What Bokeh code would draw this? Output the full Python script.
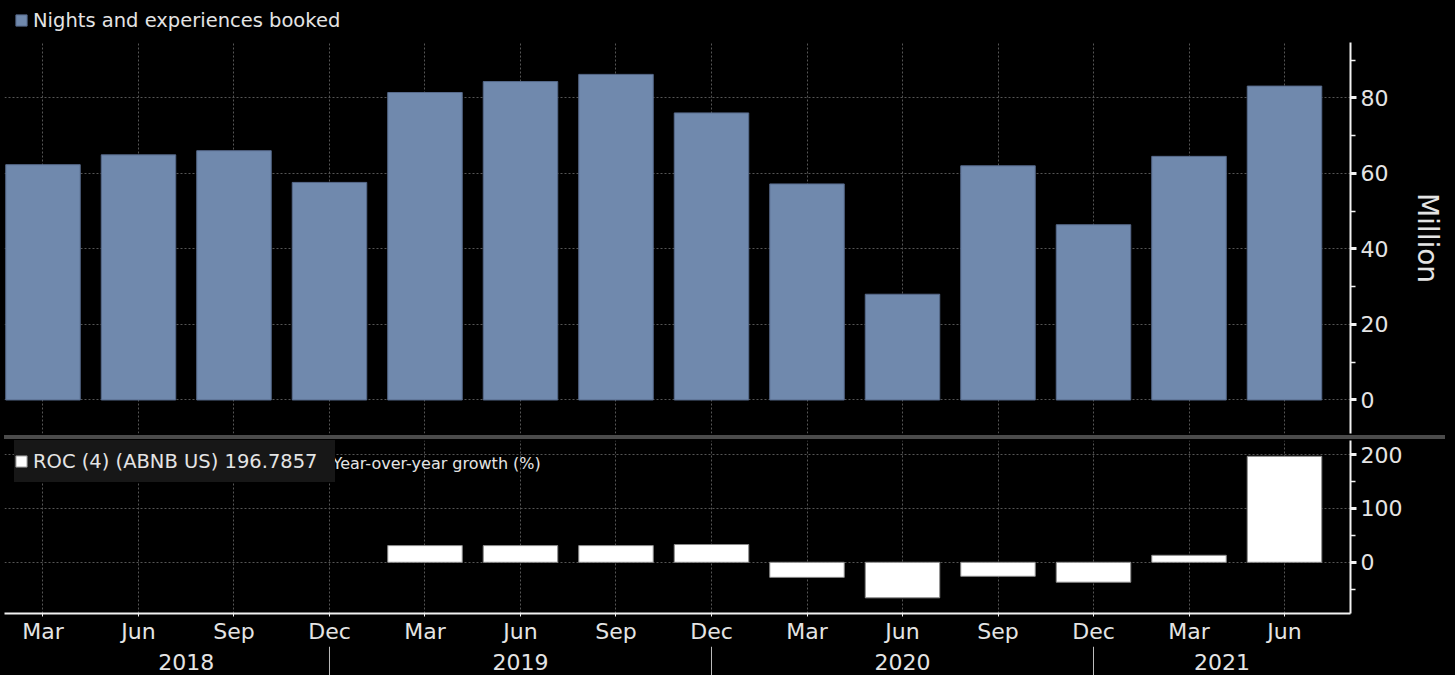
from bokeh.plotting import figure
from bokeh.layouts import column
from bokeh.models import (ColumnDataSource, FixedTicker, Grid, Range1d, Legend,
                          LegendItem, Label, Div)
from bokeh.embed import file_html
from bokeh.resources import INLINE
from bokeh.core.properties import value

# ---------------- data ----------------
quarters = ["Mar", "Jun", "Sep", "Dec", "Mar", "Jun", "Sep", "Dec",
            "Mar", "Jun", "Sep", "Dec", "Mar", "Jun"]
years = [2018, 2018, 2018, 2018, 2019, 2019, 2019, 2019,
         2020, 2020, 2020, 2020, 2021, 2021]
nights_booked = [62.3, 64.9, 66.0, 57.6, 81.4, 84.3, 86.2, 76.0,
                 57.2, 28.0, 62.0, 46.4, 64.5, 83.1]
# year-over-year growth (%), available from Mar 2019 on
roc_start = 4
roc_growth = [31, 31, 31, 33, -28, -66, -26, -37, 13, 196.7857]

top_ticks = [0, 20, 40, 60, 80]
top_minor = [10, 30, 50, 70, 90]
bot_ticks = [0, 100, 200]
bot_minor = [-50, 50, 150]

top_label = "Nights and experiences booked"
roc_label = "ROC (4) (ABNB US) 196.7857"
roc_note = "Year-over-year growth (%)"
unit_label = "Million"

# ---------------- style ----------------
FONT = "DejaVu Sans"
BG = "black"
TXT = "#e4e4e4"
GRID = "#555555"
BAR = "#7089ad"
BAR_LINE = "#56698a"
W = 1455
LB = 4
RB = 105

idx = list(range(len(quarters)))
x_start, x_end = -0.403, 13.691
xr = Range1d(x_start, x_end)


def style_fig(p):
    p.background_fill_color = BG
    p.border_fill_color = BG
    p.outline_line_color = None


def style_right_axis(ax, ticks, minor):
    ax.ticker = FixedTicker(ticks=ticks, minor_ticks=minor)
    ax.axis_line_color = "#f2f2f2"
    ax.axis_line_width = 2
    ax.major_tick_in = 0
    ax.major_tick_out = 6
    ax.major_tick_line_width = 3
    ax.major_tick_line_color = "#f2f2f2"
    ax.minor_tick_in = 0
    ax.minor_tick_out = 5
    ax.minor_tick_line_width = 1.5
    ax.minor_tick_line_color = "#f2f2f2"
    ax.major_label_text_font = FONT
    ax.major_label_text_font_size = "22px"
    ax.major_label_text_color = TXT
    ax.major_label_standoff = 4


def style_grid(g):
    g.grid_line_color = GRID
    g.grid_line_dash = "2 2"
    g.grid_line_width = 1


# ---------------- legend strip (top) ----------------
p0 = figure(width=W, height=42, x_range=Range1d(0, 1), y_range=Range1d(0, 1),
            output_backend="svg", toolbar_location=None,
            x_axis_location=None, y_axis_location=None,
            min_border_left=LB, min_border_right=RB, min_border_top=0,
            min_border_bottom=0)
style_fig(p0)
p0.grid.visible = False
# legend key only: a zero-height bar kept outside the strip's visible range
r0 = p0.vbar(x=[-5], top=[0], bottom=[0], width=0.5,
             fill_color=BAR, line_color=BAR_LINE)
leg0 = Legend(items=[LegendItem(label=top_label, renderers=[r0])],
              location=(10, 2), margin=0, padding=0, spacing=0,
              glyph_width=14, glyph_height=14, label_standoff=5,
              label_height=40,
              label_text_font=FONT, label_text_font_size="19.5px",
              label_text_color=TXT, background_fill_alpha=0,
              border_line_color=None)
p0.add_layout(leg0, "center")

# ---------------- top panel ----------------
src1 = ColumnDataSource(dict(x=idx, v=nights_booked))
p1 = figure(width=W, height=392, x_range=xr, y_range=Range1d(-8.87, 94.64),
            output_backend="svg", toolbar_location=None,
            x_axis_location=None, y_axis_location="right",
            min_border_left=LB, min_border_right=RB, min_border_top=0,
            min_border_bottom=1)
style_fig(p1)
style_right_axis(p1.yaxis[0], top_ticks, top_minor)
p1.yaxis[0].axis_label = unit_label
p1.yaxis[0].axis_label_text_font = FONT
p1.yaxis[0].axis_label_text_font_size = "28px"
p1.yaxis[0].axis_label_text_font_style = "normal"
p1.yaxis[0].axis_label_text_color = TXT
p1.yaxis[0].axis_label_standoff = 20
for g in p1.ygrid:
    style_grid(g)
    g.ticker = FixedTicker(ticks=top_ticks)
if len(p1.xgrid) > 0:
    for g in p1.xgrid:
        style_grid(g)
        g.ticker = FixedTicker(ticks=idx)
else:
    vg1 = Grid(dimension=0, ticker=FixedTicker(ticks=idx))
    style_grid(vg1)
    p1.add_layout(vg1)
p1.vbar(x="x", top="v", bottom=0, width=0.78, source=src1,
        fill_color=BAR, line_color=BAR_LINE, line_width=1)

# ---------------- divider ----------------
divider = Div(text='<div style="width:17px;height:4px;background:#7c7c7c;'
                   'margin-left:713px"></div>',
              width=1441, height=4, margin=(1, 10, 1, 4),
              styles={"background-color": "#4b4b4b"})

# ---------------- bottom panel ----------------
src2 = ColumnDataSource(dict(x=idx[roc_start:], v=roc_growth))
p2 = figure(width=W, height=206, x_range=xr, y_range=Range1d(-95.1, 226.2),
            output_backend="svg", toolbar_location=None,
            x_axis_location="below", y_axis_location="right",
            min_border_left=LB, min_border_right=RB, min_border_top=0,
            min_border_bottom=32)
style_fig(p2)
style_right_axis(p2.yaxis[0], bot_ticks, bot_minor)
xa = p2.xaxis[0]
xa.ticker = FixedTicker(ticks=idx)
xa.major_label_overrides = {i: q for i, q in zip(idx, quarters)}
xa.axis_line_color = "#f2f2f2"
xa.axis_line_width = 2
xa.major_tick_in = 0
xa.major_tick_out = 3
xa.major_tick_line_color = "#f2f2f2"
xa.minor_tick_out = 0
xa.minor_tick_in = 0
xa.major_label_text_font = FONT
xa.major_label_text_font_size = "22px"
xa.major_label_text_color = TXT
xa.major_label_standoff = 2
for g in p2.xgrid:
    style_grid(g)
    g.ticker = FixedTicker(ticks=idx)
for g in p2.ygrid:
    style_grid(g)
    g.ticker = FixedTicker(ticks=bot_ticks)

r2 = p2.vbar(x="x", top="v", bottom=0, width=0.78, source=src2,
             fill_color="white", line_color="#8a8a8a", line_width=1)
leg2 = Legend(items=[LegendItem(label=roc_label, renderers=[r2])],
              location=(10, 131), margin=0, padding=0, spacing=0,
              glyph_width=14, glyph_height=14, label_standoff=5,
              label_height=42, label_width=302,
              label_text_font=FONT, label_text_font_size="19.5px",
              label_text_color=TXT, background_fill_color="#171717",
              background_fill_alpha=1, border_line_color=None)
p2.add_layout(leg2, "center")
p2.add_layout(Label(x=328, y=150, x_units="screen", y_units="screen",
                    text=roc_note, text_font=FONT, text_font_size="16px",
                    text_color=TXT, text_baseline="middle", text_align="left"))

# ---------------- year row ----------------
year_list = sorted(set(years))
last_idx = [max(i for i, y in enumerate(years) if y == yr) for yr in year_list]
bounds = [idx[0]] + last_idx[:-1] + [x_end]
year_centers = [(bounds[k] + bounds[k + 1]) / 2 for k in range(len(year_list))]
separators = last_idx[:-1]

p3 = figure(width=W, height=29, x_range=xr, y_range=Range1d(0, 1),
            output_backend="svg", toolbar_location=None,
            x_axis_location=None, y_axis_location=None,
            min_border_left=LB, min_border_right=RB, min_border_top=0,
            min_border_bottom=0)
style_fig(p3)
p3.grid.visible = False
p3.segment(x0=separators, x1=separators, y0=[0] * len(separators),
           y1=[1] * len(separators), line_color="#bdbdbd", line_width=1)
p3.text(x=year_centers, y=[0.48] * len(year_centers),
        text=[str(y) for y in year_list], text_font=value(FONT),
        text_font_size="22px", text_color=TXT, text_align="center",
        text_baseline="middle")

layout = column(p0, p1, divider, p2, p3, spacing=0,
                styles={"background-color": "black"})
open("out.html", "w").write(file_html(layout, INLINE))
